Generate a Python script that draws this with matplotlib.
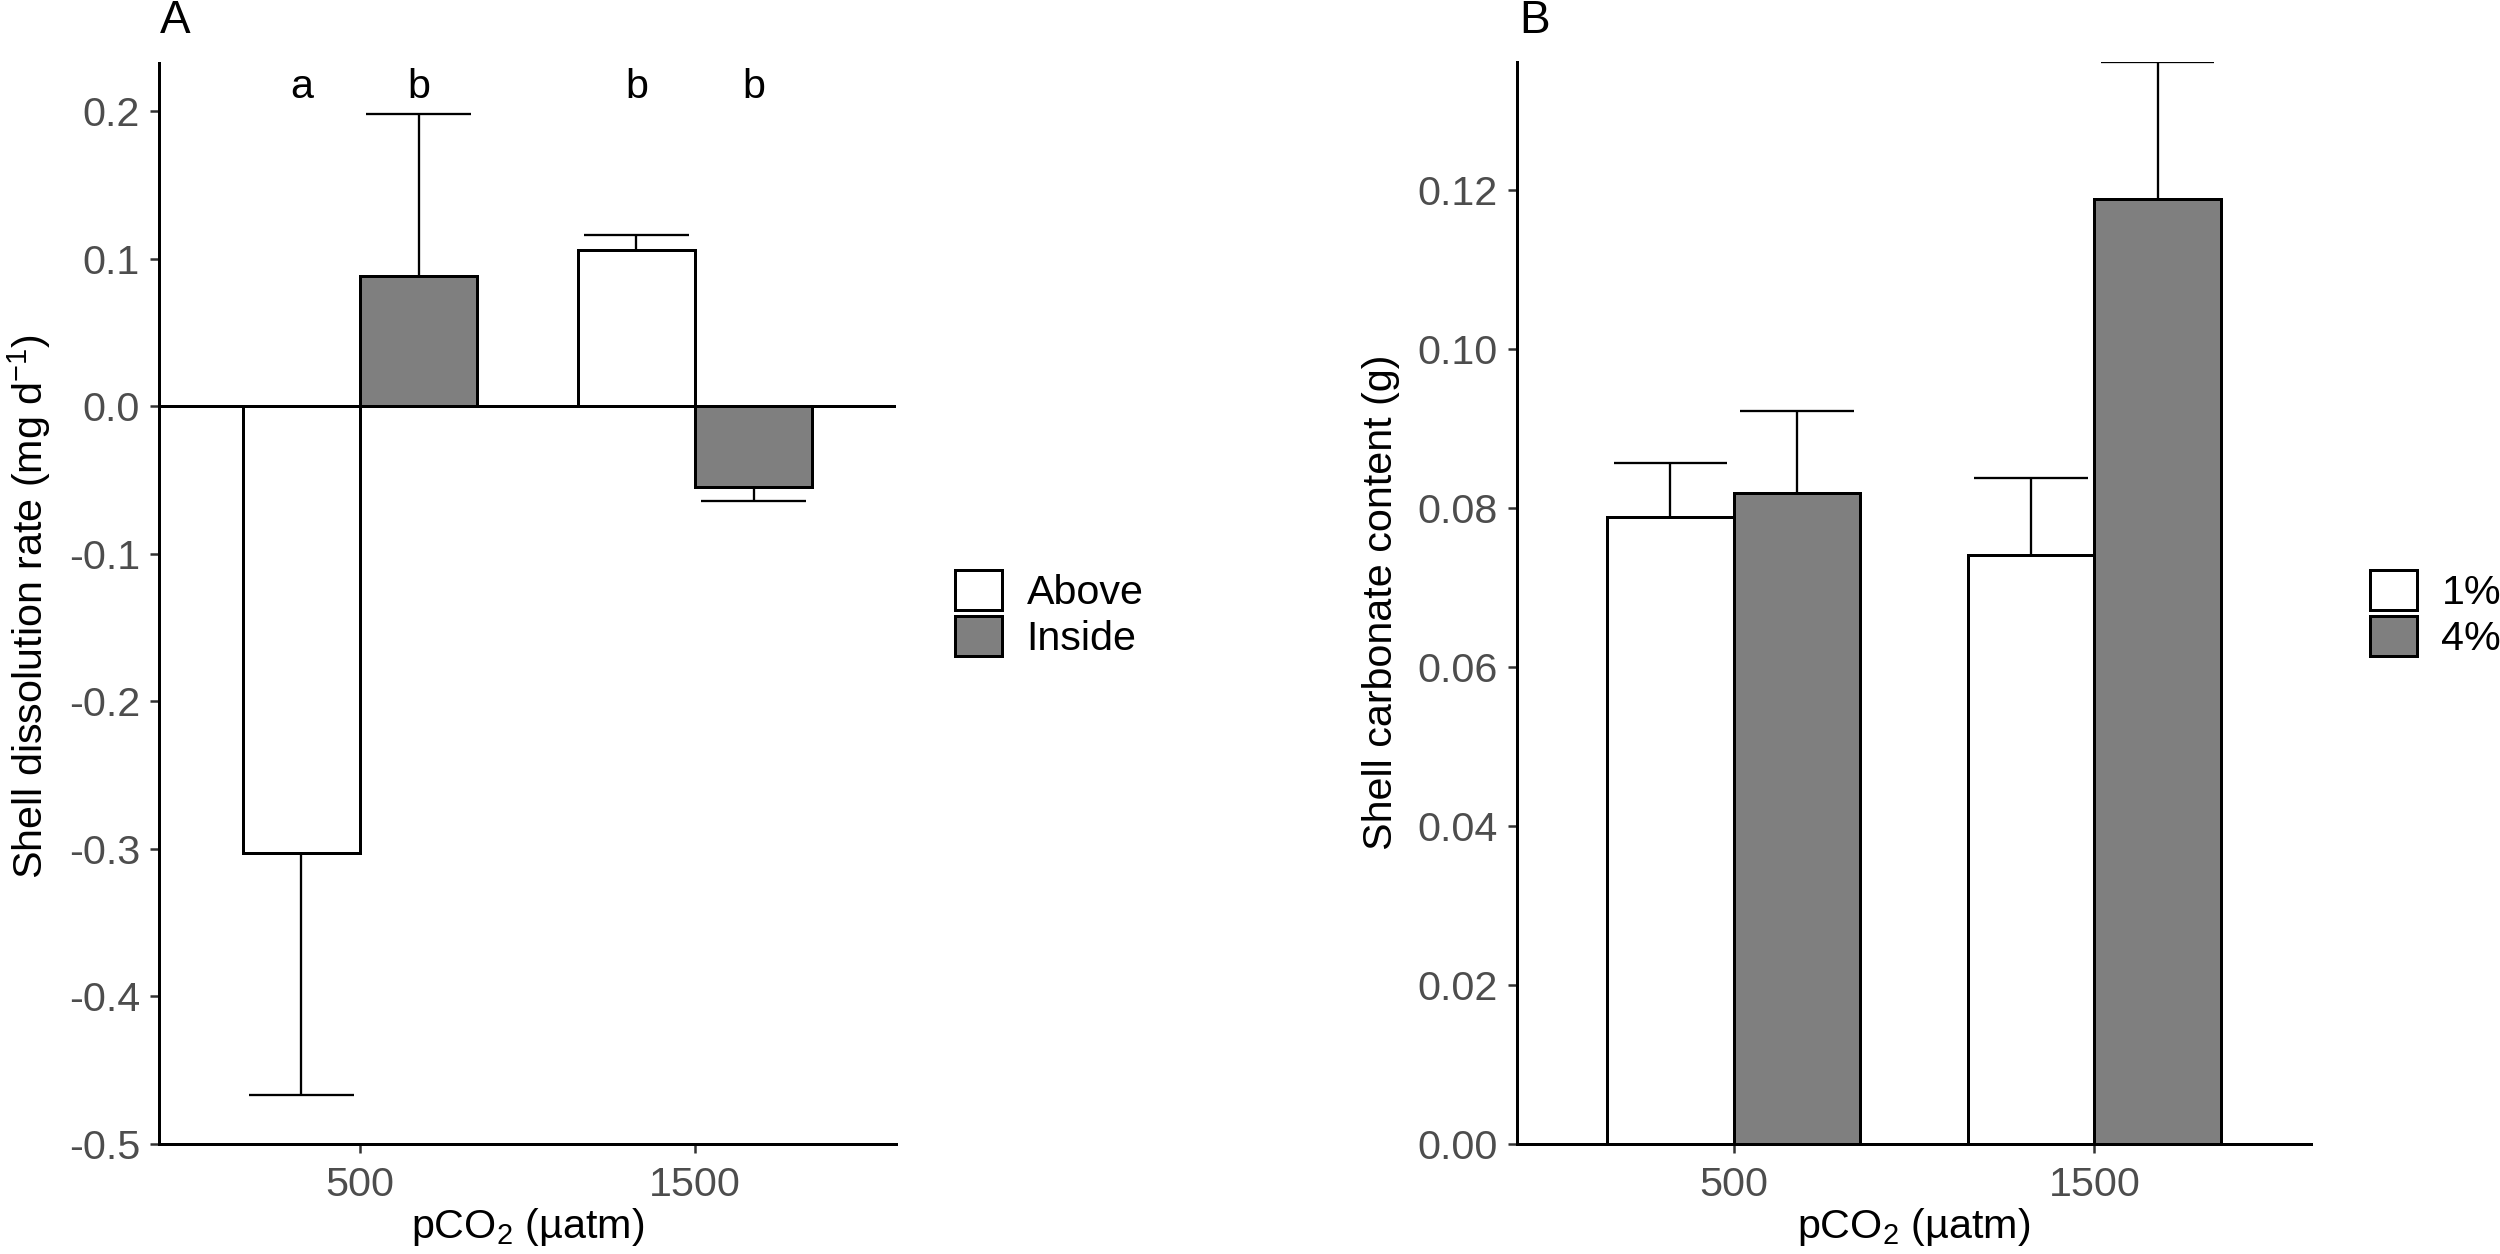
import numpy as np
import matplotlib
matplotlib.use('Agg')
import matplotlib.pyplot as plt

# ---- data ----
pco2_labels = ['500', '1500']

# panel A: shell dissolution rate (mg d-1), mean and se
groups_a = ['Above', 'Inside']
rate_above = [-0.303, 0.106]
rate_inside = [0.088, -0.055]
se_above = [0.164, 0.010]
se_inside = [0.110, 0.009]
letters_above = ['a', 'b']
letters_inside = ['b', 'b']
yticks_a = [-0.5, -0.4, -0.3, -0.2, -0.1, 0.0, 0.1, 0.2]
yticklabels_a = ['-0.5', '-0.4', '-0.3', '-0.2', '-0.1', '0.0', '0.1', '0.2']

# panel B: shell carbonate content (g)
groups_b = ['1%', '4%']
content_1 = [0.0788, 0.0740]
content_4 = [0.0818, 0.1188]
se_1 = [0.0068, 0.0097]
se_4 = [0.0103, 0.0173]
yticks_b = [0.00, 0.02, 0.04, 0.06, 0.08, 0.10, 0.12]
yticklabels_b = ['0.00', '0.02', '0.04', '0.06', '0.08', '0.10', '0.12']

# ---- style ----
W, H, DPI = 2500, 1254, 300
FS = 9.9
fills = ['white', '#7F7F7F']
bar_w = 0.35
err_w = 0.315

plt.rcParams['font.family'] = ['Liberation Sans', 'DejaVu Sans']
plt.rcParams['mathtext.fontset'] = 'custom'
plt.rcParams['mathtext.rm'] = 'Liberation Sans'
plt.rcParams['mathtext.default'] = 'regular'


def px(v):
    return v * 72 / DPI


def axes_rect(left, right, top, bottom):
    return [left / W, 1 - bottom / H, (right - left) / W, (bottom - top) / H]


def draw_panel(ax, means, ses, labels, letters=None, letter_y=None):
    x = np.arange(1, len(pco2_labels) + 1)
    offsets = [-bar_w / 2, bar_w / 2]
    handles = []
    for i in range(len(means)):
        m = np.array(means[i])
        s = np.array(ses[i])
        xs = x + offsets[i]
        b = ax.bar(xs, m, width=bar_w, color=fills[i], edgecolor='black',
                   linewidth=px(3), label=labels[i], zorder=2)
        handles.append(b)
        end = m + np.sign(m) * s
        ax.vlines(xs, m, end, color='black', lw=px(2.3), zorder=3)
        ax.hlines(end, xs - err_w / 2, xs + err_w / 2, color='black',
                  lw=px(2.3), zorder=3)
        if letters is not None:
            for xx, t in zip(xs, letters[i]):
                ax.text(xx, letter_y, t, ha='center', va='baseline',
                        fontsize=FS, color='black')
    ax.set_xticks(x)
    ax.set_xticklabels(pco2_labels)
    ax.set_xlim(0.4, 2.6)
    for sp in ['top', 'right']:
        ax.spines[sp].set_visible(False)
    for sp in ['left', 'bottom']:
        ax.spines[sp].set_linewidth(px(3))
        ax.spines[sp].set_color('black')
    ax.tick_params(direction='out', length=px(9), width=px(2.5),
                   color='#333333', labelcolor='#4D4D4D', labelsize=FS)
    ax.tick_params(axis='y', pad=px(10))
    ax.tick_params(axis='x', pad=px(13))
    return handles


def add_legend(ax, handles, left, center_y):
    ax.legend(handles=handles, loc='center left',
              bbox_to_anchor=(left / W, 1 - center_y / H),
              bbox_transform=fig.transFigure, frameon=False, borderpad=0,
              borderaxespad=0, handlelength=47 / 41, handleheight=46 / 41,
              handletextpad=24 / 41, labelspacing=0.08, fontsize=FS)


fig = plt.figure(figsize=(W / DPI, H / DPI), dpi=DPI)

# ---- panel A ----
A_l, A_r, A_t, A_b = 159, 896, 63, 1144
axA = fig.add_axes(axes_rect(A_l, A_r, A_t, A_b))
hA = draw_panel(axA, [rate_above, rate_inside], [se_above, se_inside], groups_a,
                letters=[letters_above, letters_inside], letter_y=0.209)
axA.axhline(0, color='black', lw=px(3), zorder=4)
axA.set_ylim(-0.5, 0.2326)
axA.set_yticks(yticks_a)
axA.set_yticklabels(yticklabels_a)
axA.set_xlabel(r'pCO$_2$ (µatm)', fontsize=FS)
axA.xaxis.label.set_va('baseline')
axA.xaxis.set_label_coords(0.5, -(1238 - A_b) / (A_b - A_t))
axA.set_ylabel(r'Shell dissolution rate (mg d$^{-1}$)', fontsize=FS)
axA.yaxis.label.set_va('baseline')
axA.yaxis.set_label_coords((42.5 - A_l) / (A_r - A_l), 0.497)
add_legend(axA, hA, 955, 614)

# ---- panel B ----
B_l, B_r, B_t, B_b = 1517, 2311, 61.5, 1144
axB = fig.add_axes(axes_rect(B_l, B_r, B_t, B_b))
hB = draw_panel(axB, [content_1, content_4], [se_1, se_4], groups_b)
axB.set_ylim(0, 0.1361)
axB.set_yticks(yticks_b)
axB.set_yticklabels(yticklabels_b)
axB.set_xlabel(r'pCO$_2$ (µatm)', fontsize=FS)
axB.xaxis.label.set_va('baseline')
axB.xaxis.set_label_coords(0.5, -(1238 - B_b) / (B_b - B_t))
axB.set_ylabel('Shell carbonate content (g)', fontsize=FS)
axB.yaxis.label.set_va('baseline')
axB.yaxis.set_label_coords((1392 - B_l) / (B_r - B_l), 0.5)
add_legend(axB, hB, 2370, 614)

fig.text(160 / W, 1 - 33 / H, 'A', fontsize=11, ha='left', va='baseline')
fig.text(1519 / W, 1 - 33 / H, 'B', fontsize=11, ha='left', va='baseline')

fig.savefig('out.png', dpi=DPI)
